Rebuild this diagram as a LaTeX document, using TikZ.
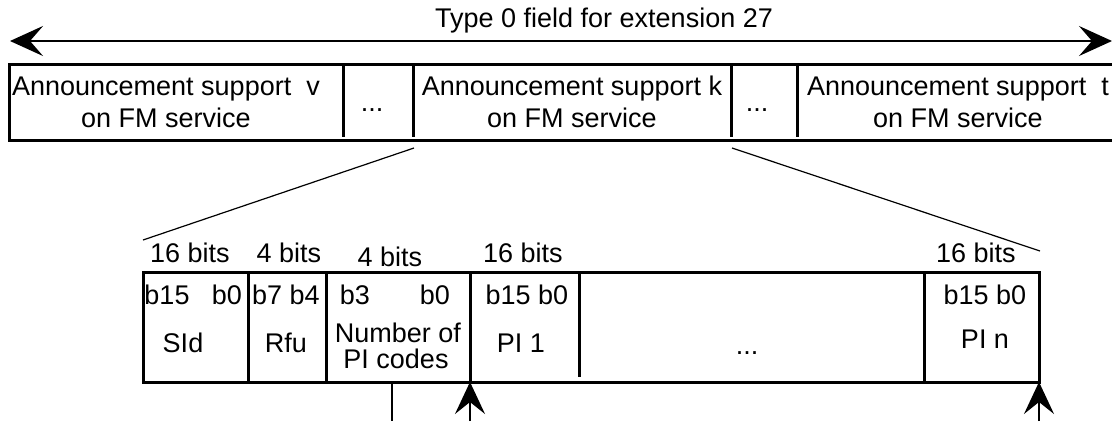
\documentclass[tikz,border=0pt]{standalone}
\usepackage{fontspec}
\setmainfont{Liberation Sans}
\usetikzlibrary{arrows.meta}
\begin{document}
\begin{tikzpicture}[x=1pt,y=-1pt,
  lbl/.style={font=\fontsize{27}{32}\selectfont, inner sep=0pt},
  cell/.style={lbl, align=center},
  boxline/.style={line width=3pt},
  divline/.style={line width=3pt},
  leader/.style={line width=1.2pt},
  uptip/.style={-{Stealth[length=32pt,width=30pt,inset=12pt]}, line width=1.2pt}
]
\useasboundingbox (0,0) rectangle (1112,421);

% overall arrow and title
\coordinate (aL) at (10,41);
\coordinate (aR) at (1112,41);
\draw[line width=2.5pt, {Stealth[length=33pt,width=30pt,inset=13pt]}-{Stealth[length=33pt,width=30pt,inset=13pt]}] (aL) -- (aR);
\node[lbl, anchor=base] (title) at (604,27) {Type 0 field for extension 27};

% top box
\draw[boxline] (1125,64) -- (9,64) -- (9,140) -- (1125,140);
\foreach \x in {343,413,731,797} \draw[divline] (\x,64) -- (\x,137);
\node[cell] (cv) at (166,102) {Announcement support\ \ v\\on FM service};
\node[lbl, anchor=base] (d1) at (372,111) {...};
\node[cell] (ck) at (572,102) {Announcement support k\\on FM service};
\node[lbl, anchor=base] (d2) at (757,111) {...};
\node[cell] (ct) at (958,102) {Announcement support\ \ t\\on FM service};

% leader lines
\coordinate (kL) at (414,148);
\coordinate (kR) at (732,148);
\coordinate (bL) at (143,240);
\coordinate (bR) at (1040,251);
\draw[leader] (kL) -- (bL);
\draw[leader] (kR) -- (bR);

% bottom box
\draw[boxline] (143,272) rectangle (1039,382);
\foreach \x in {248,326,470,924} \draw[divline] (\x,272) -- (\x,382);
\draw[divline] (579,271) -- (579,377);

% size labels
\node[lbl, anchor=base] (s1) at (190,262) {16 bits};
\node[lbl, anchor=base] (s2) at (289,262) {4 bits};
\node[lbl, anchor=base] (s3) at (390,266) {4 bits};
\node[lbl, anchor=base] (s4) at (523,262) {16 bits};
\node[lbl, anchor=base] (s5) at (976,262) {16 bits};

% bit labels
\node[lbl, anchor=base] (b1a) at (167,304) {b15};
\node[lbl, anchor=base] (b1b) at (227,304) {b0};
\node[lbl, anchor=base] (b2) at (286,304) {b7 b4};
\node[lbl, anchor=base] (b3a) at (355,304) {b3};
\node[lbl, anchor=base] (b3b) at (435,304) {b0};
\node[lbl, anchor=base] (b4) at (527,304) {b15 b0};
\node[lbl, anchor=base] (b5) at (985,304) {b15 b0};

% field names
\node[lbl, anchor=base] (f1) at (183,352) {SId};
\node[lbl, anchor=base] (f2) at (286,352) {Rfu};
\node[lbl, anchor=base] (f3a) at (398,342) {Number of};
\node[lbl, anchor=base] (f3b) at (396,368) {PI codes};
\node[lbl, anchor=base] (f4) at (521,352) {PI 1};
\node[lbl, anchor=base] (f5) at (747,354) {...};
\node[lbl, anchor=base] (f6) at (985,348) {PI n};

% bottom pointers
\coordinate (p0t) at (392,382);
\coordinate (p0b) at (392,421);
\coordinate (p1t) at (470,382);
\coordinate (p1b) at (470,421);
\coordinate (p2t) at (1039,382);
\coordinate (p2b) at (1039,421);
\draw[leader] (p0t) -- (p0b);
\draw[uptip] (p1b) -- (p1t);
\draw[uptip] (p2b) -- (p2t);
\end{tikzpicture}
\end{document}
